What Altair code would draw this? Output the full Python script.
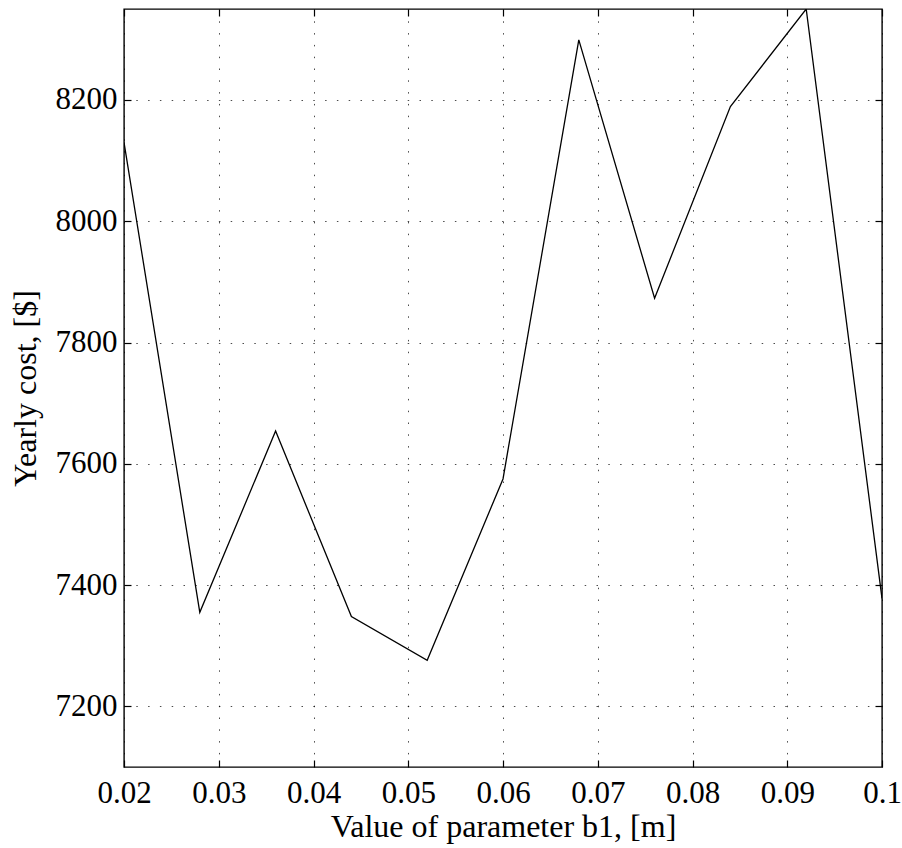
import altair as alt
import pandas as pd

# Yearly cost as a function of parameter b1
b1_values = [0.020, 0.028, 0.036, 0.044, 0.052, 0.060, 0.068, 0.076, 0.084, 0.092, 0.100]
yearly_cost = [8130, 7355, 7654, 7348, 7276, 7575, 8299, 7873, 8189, 8350, 7378]

x_ticks = [0.02, 0.03, 0.04, 0.05, 0.06, 0.07, 0.08, 0.09, 0.1]
y_ticks = [7200, 7400, 7600, 7800, 8000, 8200]
x_domain = [0.02, 0.1]
y_domain = [7100, 8350]

df = pd.DataFrame({"b1": b1_values, "cost": yearly_cost})

FONT = "'Liberation Serif', 'Times New Roman', 'DejaVu Serif', serif"
LABEL_SIZE = 31
TITLE_SIZE = 32
x_scale = alt.Scale(domain=x_domain, nice=False, zero=False)
y_scale = alt.Scale(domain=y_domain, nice=False, zero=False)
grid_dash = [1.5, 10.3]

base = alt.Chart(df)

# main curve, with labels and dotted grid
curve = base.mark_line(color="black", strokeWidth=1.3, clip=True).encode(
    x=alt.X("b1:Q", scale=x_scale,
            axis=alt.Axis(orient="bottom", values=x_ticks, format="~g",
                          ticks=False, domain=False, grid=True,
                          gridColor="#000000", gridOpacity=0.7, gridDash=grid_dash,
                          labelFont=FONT, labelFontSize=LABEL_SIZE, labelColor="black",
                          labelPadding=11, labelFlush=False,
                          title="Value of parameter b1, [m]", titleFont=FONT,
                          titleFontSize=TITLE_SIZE, titleFontWeight="normal",
                          titleColor="black", titlePadding=3)),
    y=alt.Y("cost:Q", scale=y_scale,
            axis=alt.Axis(orient="left", values=y_ticks, format="d",
                          ticks=False, domain=False, grid=True,
                          gridColor="#000000", gridOpacity=0.7, gridDash=grid_dash,
                          labelFont=FONT, labelFontSize=LABEL_SIZE, labelColor="black",
                          labelPadding=7, labelFlush=False,
                          title="Yearly cost, [$]", titleFont=FONT,
                          titleFontSize=TITLE_SIZE, titleFontWeight="normal",
                          titleColor="black", titlePadding=13)),
)


def tick_layer(x_orient, y_orient):
    # invisible copy of the curve carrying inward-pointing tick marks
    return base.mark_line(opacity=0).encode(
        x=alt.X("b1:Q", scale=x_scale,
                axis=alt.Axis(orient=x_orient, values=x_ticks, labels=False,
                              ticks=True, tickSize=7, tickColor="black",
                              tickWidth=1.2, offset=-7, domain=False,
                              grid=False, title=None)),
        y=alt.Y("cost:Q", scale=y_scale,
                axis=alt.Axis(orient=y_orient, values=y_ticks, labels=False,
                              ticks=True, tickSize=7, tickColor="black",
                              tickWidth=1.2, offset=-7, domain=False,
                              grid=False, title=None)),
    )


chart = (
    alt.layer(curve, tick_layer("bottom", "left"), tick_layer("top", "right"))
    .resolve_axis(x="independent", y="independent")
    .properties(
        width=758,
        height=758,
        autosize=alt.AutoSizeParams(type="none"),
        padding={"left": 124, "top": 9, "right": 20, "bottom": 81},
        background="white",
    )
    .configure_view(stroke="black", strokeWidth=1.4)
)

chart.save("out.html", embed_options={"renderer": "svg", "actions": False})
